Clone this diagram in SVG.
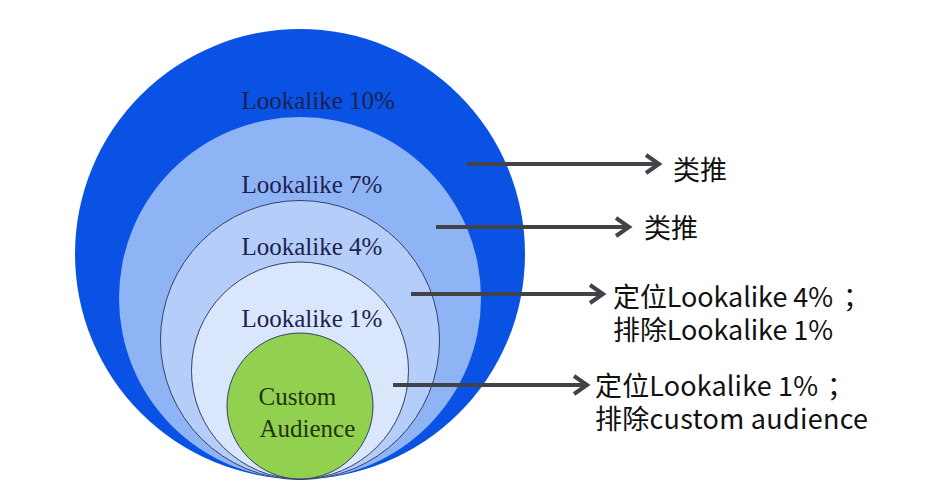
<svg xmlns="http://www.w3.org/2000/svg" width="932" height="504" viewBox="0 0 932 504">
<defs>
<style>
.ser{font-family:"Liberation Serif","Times New Roman",serif;font-size:25px;fill:#1c2150}
.cus{font-family:"Liberation Serif","Times New Roman",serif;font-size:25px;fill:#1e3512}
.cjk{font-family:"Noto Sans CJK SC","Noto Sans",sans-serif;font-size:27px;fill:#111111}
.ring{stroke:#34406a;stroke-width:1}
.conn{stroke:#414349;stroke-width:4;fill:none}
</style>
<marker id="arr" markerUnits="userSpaceOnUse" markerWidth="24" markerHeight="24" refX="16" refY="12" orient="auto" viewBox="0 0 24 24">
<path d="M3,3 L16,12 L3,21" fill="none" stroke="#414349" stroke-width="4" stroke-linejoin="miter" stroke-linecap="butt"/>
</marker>
</defs>
<rect width="932" height="504" fill="#ffffff"/>
<g id="lookalike10">
<circle cx="300" cy="254" r="225" fill="#0a52e4"/>
<text class="ser" x="241.5" y="109">Lookalike 10%</text>
</g>
<g id="lookalike7">
<circle cx="300" cy="298" r="181" fill="#8fb4f5"/>
<text class="ser" x="241.5" y="193">Lookalike 7%</text>
</g>
<g id="lookalike4">
<circle cx="300" cy="340" r="139.5" fill="#b4cdf9" class="ring"/>
<text class="ser" x="241.5" y="255">Lookalike 4%</text>
</g>
<g id="lookalike1">
<circle cx="300" cy="370.5" r="108.5" fill="#dae6fb" class="ring"/>
<text class="ser" x="241.5" y="327">Lookalike 1%</text>
</g>
<g id="custom">
<circle cx="300" cy="406" r="73" fill="#92d050" class="ring"/>
<text class="cus" x="258.5" y="405">Custom</text>
<text class="cus" x="259.5" y="437">Audience</text>
</g>
<g id="connectors">
<line class="conn" x1="467" y1="164" x2="659" y2="164" marker-end="url(#arr)"/>
<line class="conn" x1="436" y1="227" x2="629" y2="227" marker-end="url(#arr)"/>
<line class="conn" x1="411" y1="294" x2="603" y2="294" marker-end="url(#arr)"/>
<line class="conn" x1="393" y1="385" x2="587" y2="385" marker-end="url(#arr)"/>
</g>
<g id="label1">
<text class="cjk" x="673" y="180">类推</text>
</g>
<g id="label2">
<text class="cjk" x="644" y="238">类推</text>
</g>
<g id="label3">
<text class="cjk" x="613" y="307" textLength="220">定位Lookalike 4%</text>
<text class="cjk" x="843" y="307">；</text>
<text class="cjk" x="613" y="340" textLength="220">排除Lookalike 1%</text>
</g>
<g id="label4">
<text class="cjk" x="595" y="396" textLength="223">定位Lookalike 1%</text>
<text class="cjk" x="827" y="396">；</text>
<text class="cjk" x="595" y="429" textLength="273">排除custom audience</text>
</g>
</svg>
